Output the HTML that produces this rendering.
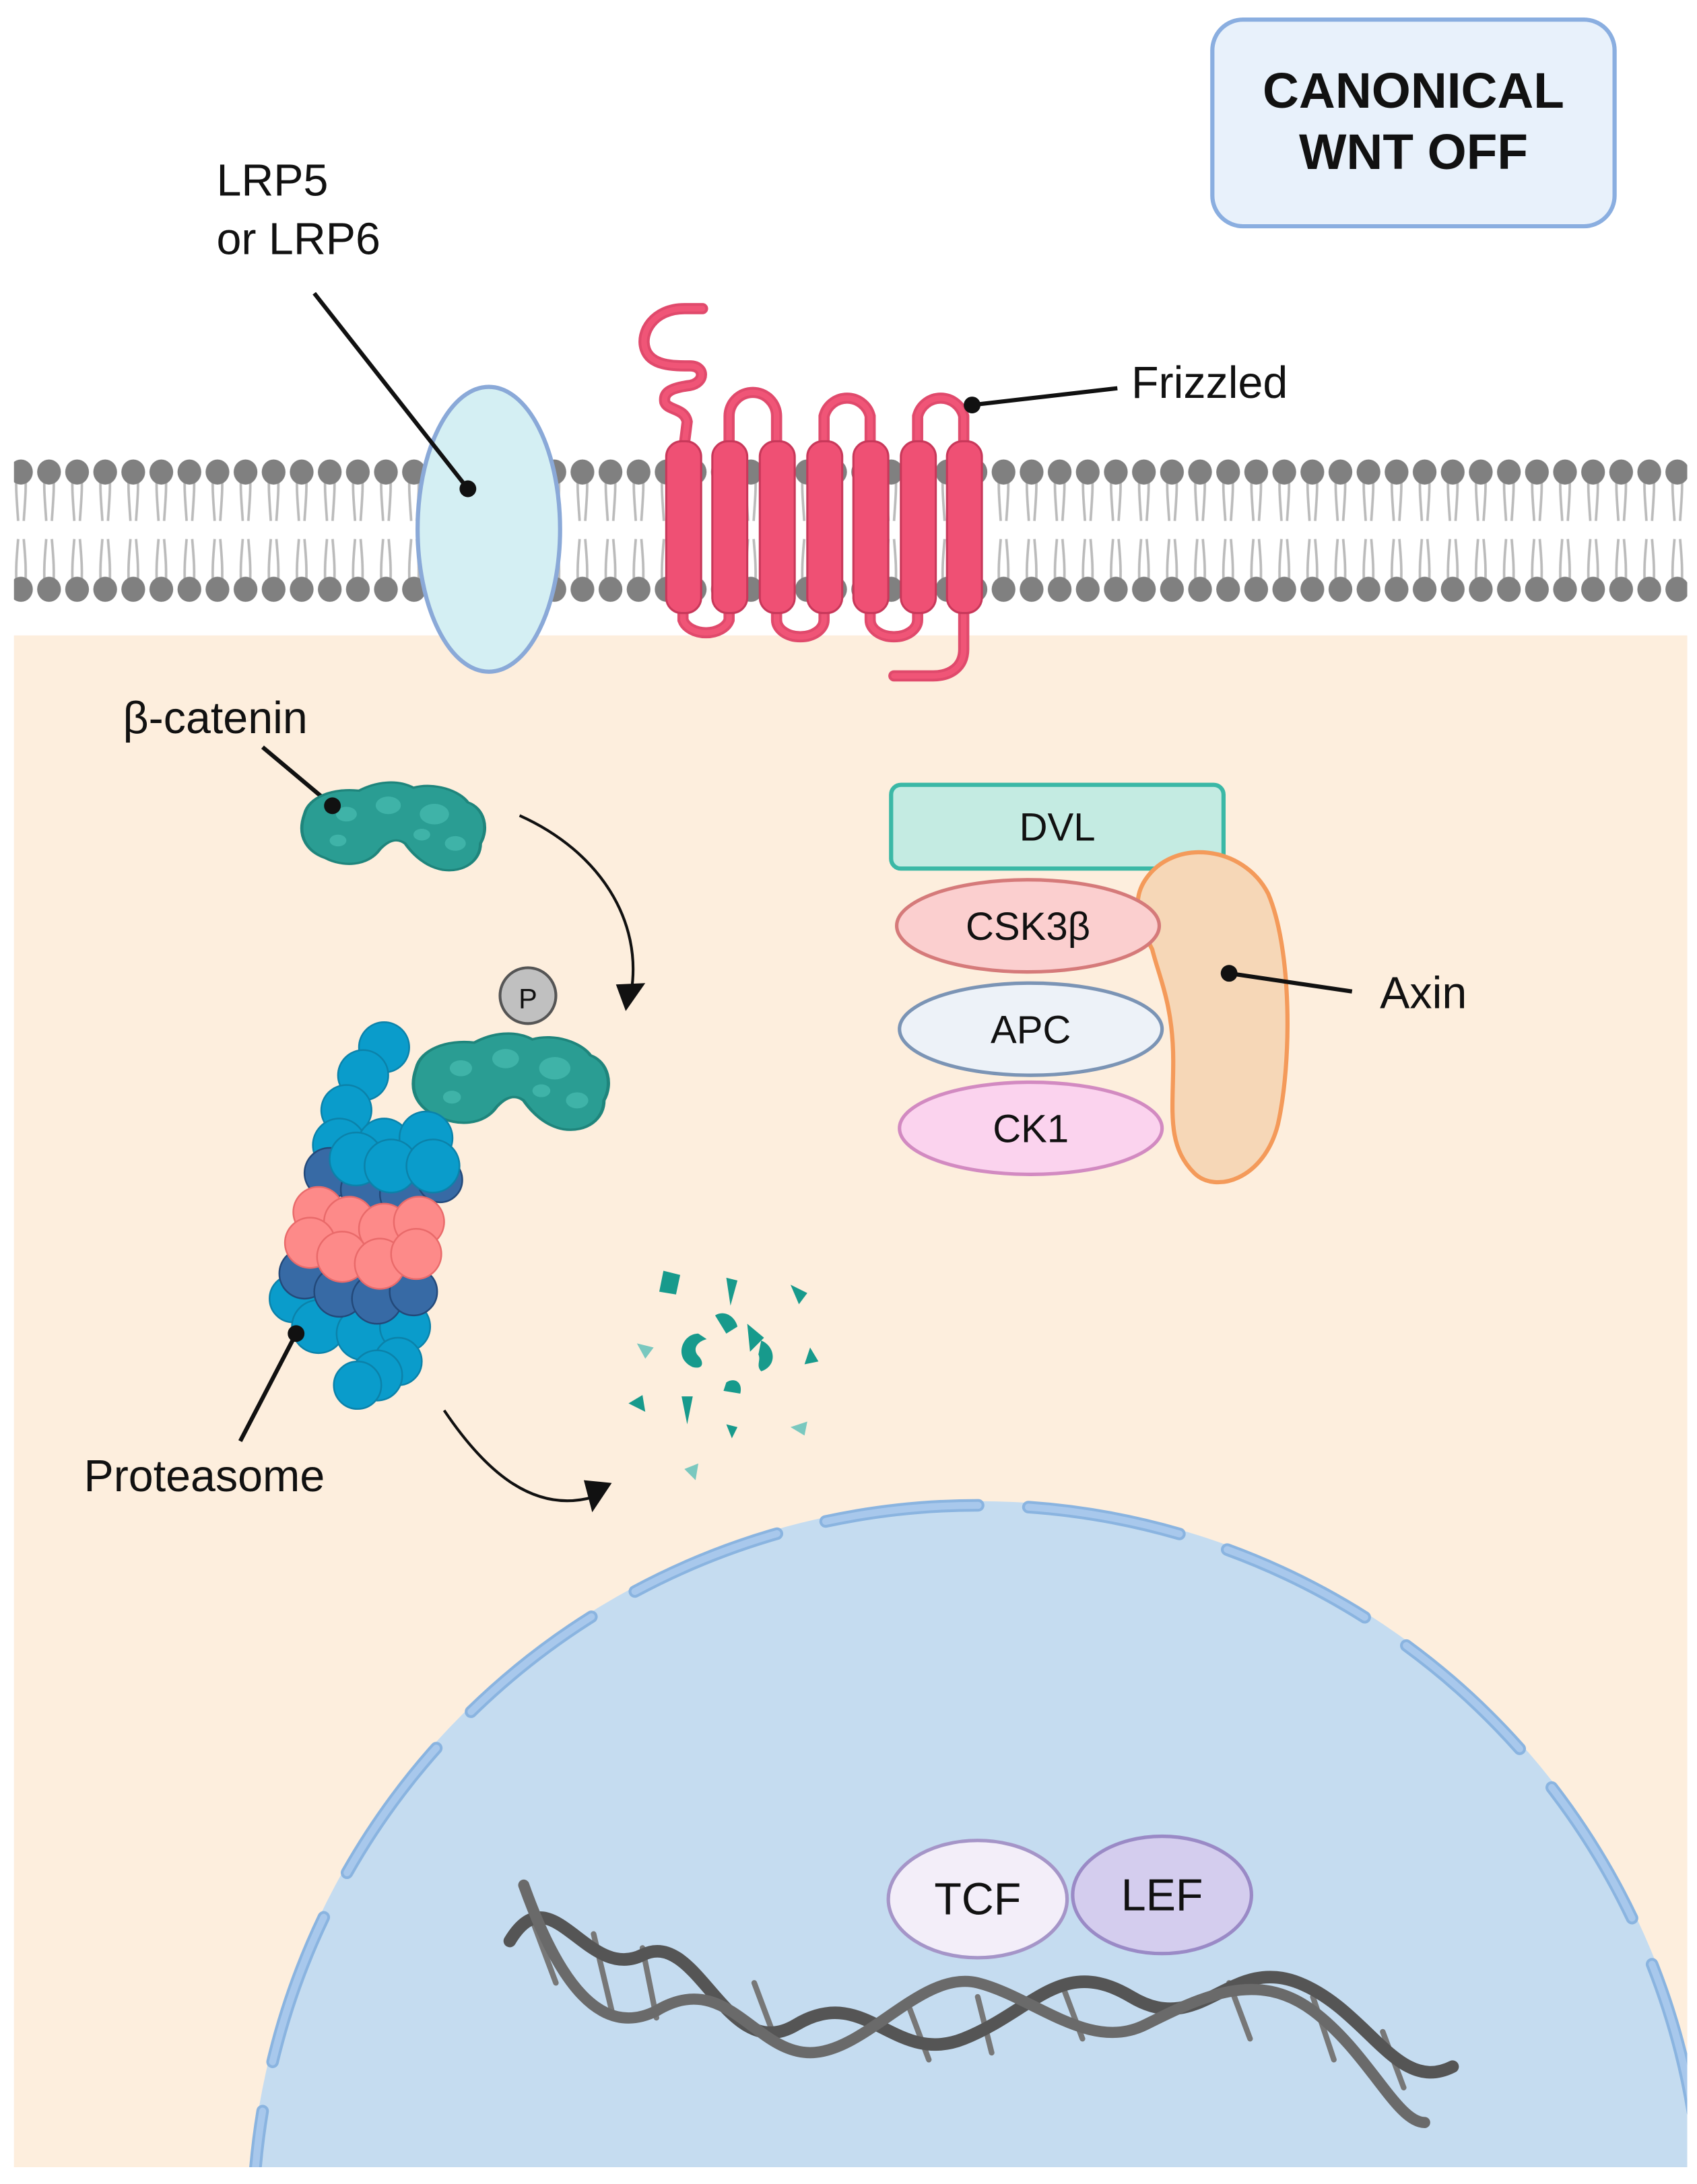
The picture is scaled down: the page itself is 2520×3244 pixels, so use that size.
<!DOCTYPE html>
<html><head><meta charset="utf-8"><style>
html,body{margin:0;padding:0;background:#fff;width:2520px;height:3244px;overflow:hidden}
svg{display:block}
text{font-family:"Liberation Sans",sans-serif;fill:#111}
</style></head><body>
<svg width="2520" height="3244" viewBox="0 0 1215 1564" xmlns="http://www.w3.org/2000/svg">
<defs>
<clipPath id="cyt"><rect x="10" y="455" width="1198" height="1097"/></clipPath>
<g id="bcat">
<path d="M0,20 C2,8 14,2 26,4 C34,-2 44,-4 52,2 C62,-2 74,4 78,12 C86,16 88,30 84,40 C84,52 76,60 66,58 C58,56 52,48 48,40 C44,36 40,38 36,44 C30,56 18,56 10,50 C2,46 -4,36 0,20 Z" fill="#2a9d93" stroke="#1f857c" stroke-width="1.5"/>
<circle cx="20" cy="20" r="5" fill="#3fb3a8"/><circle cx="40" cy="14" r="6" fill="#3fb3a8"/><circle cx="62" cy="20" r="7" fill="#3fb3a8"/><circle cx="72" cy="40" r="5" fill="#3fb3a8"/><circle cx="16" cy="38" r="4" fill="#3fb3a8"/><circle cx="56" cy="34" r="4" fill="#3fb3a8"/>
</g>
<pattern id="lip" x="5" y="328" width="20.1" height="104" patternUnits="userSpaceOnUse">
<path d="M7,10 C6,20 7,30 8,45 M13,10 C14,20 13,30 12,45 M8,58 C7,70 6,80 7,94 M12,58 C13,70 14,80 13,94" stroke="#bbbbbb" stroke-width="1.8" fill="none"/>
<ellipse cx="10" cy="10" rx="8.5" ry="9" fill="#808080"/>
<ellipse cx="10" cy="94" rx="8.5" ry="9" fill="#808080"/>
</pattern>
</defs>
<rect width="1215" height="1564" fill="#fff"/>
<rect x="10" y="455" width="1198" height="1097" fill="#fdeedd"/>
<g clip-path="url(#cyt)">
<circle cx="700" cy="1597" r="522" fill="#c5dcf0"/>
<circle cx="700" cy="1597" r="519" fill="none" stroke="#8ab4e0" stroke-width="9" stroke-linecap="round" stroke-dasharray="110 36"/>
<circle cx="700" cy="1597" r="519" fill="none" stroke="#a8c8ec" stroke-width="5" stroke-linecap="round" stroke-dasharray="110 36"/>
</g>
<rect x="10" y="328" width="1198" height="104" fill="url(#lip)"/>
<ellipse cx="350" cy="379" rx="51" ry="102" fill="#d4eff3" stroke="#8aa9d8" stroke-width="3"/>
<line x1="225" y1="210" x2="335" y2="350" stroke="#111" stroke-width="3"/>
<circle cx="335" cy="350" r="6" fill="#111"/>
<text x="155" y="140" font-size="32">LRP5</text>
<text x="155" y="182" font-size="32">or LRP6</text>
<g fill="none" stroke="#e04a6c" stroke-width="8" stroke-linecap="round">
<path d="M503,221 H490 C468,221 458,238 462,250 C466,262 482,262 494,262 C505,262 505,274 494,276 C478,278 475,282 476,288 C478,294 490,292 492,302 L490,318"/>
<path d="M522,318 V298 A17,17 0 0 1 556,298 V318"/>
<path d="M590,318 V298 A17,17 0 0 1 623,298 V318"/>
<path d="M657,318 V298 A17,17 0 0 1 690,298 V318"/>
<path d="M489,438 V444 A17,12 0 0 0 522,444 V438"/>
<path d="M556,438 V444 A17,12 0 0 0 590,444 V438"/>
<path d="M623,438 V444 A17,12 0 0 0 657,444 V438"/>
<path d="M690,438 V465 C690,478 680,484 668,484 H640"/>
</g>
<g fill="none" stroke="#f05577" stroke-width="4" stroke-linecap="round">
<path d="M503,221 H490 C468,221 458,238 462,250 C466,262 482,262 494,262 C505,262 505,274 494,276 C478,278 475,282 476,288 C478,294 490,292 492,302 L490,318"/>
<path d="M522,318 V298 A17,17 0 0 1 556,298 V318"/>
<path d="M590,318 V298 A17,17 0 0 1 623,298 V318"/>
<path d="M657,318 V298 A17,17 0 0 1 690,298 V318"/>
<path d="M489,438 V444 A17,12 0 0 0 522,444 V438"/>
<path d="M556,438 V444 A17,12 0 0 0 590,444 V438"/>
<path d="M623,438 V444 A17,12 0 0 0 657,444 V438"/>
<path d="M690,438 V465 C690,478 680,484 668,484 H640"/>
</g>
<g fill="#ef5074" stroke="#c8385a" stroke-width="1.5">
<rect x="477" y="316" width="25" height="123" rx="11"/>
<rect x="510" y="316" width="25" height="123" rx="11"/>
<rect x="544" y="316" width="25" height="123" rx="11"/>
<rect x="578" y="316" width="25" height="123" rx="11"/>
<rect x="611" y="316" width="25" height="123" rx="11"/>
<rect x="645" y="316" width="25" height="123" rx="11"/>
<rect x="678" y="316" width="25" height="123" rx="11"/>
</g>
<line x1="696" y1="290" x2="800" y2="278" stroke="#111" stroke-width="3"/>
<circle cx="696" cy="290" r="6" fill="#111"/>
<text x="810" y="285" font-size="32">Frizzled</text>
<rect x="868" y="14" width="288" height="148" rx="22" fill="#e8f1fb" stroke="#8aaee0" stroke-width="3"/>
<text x="1012" y="77" font-size="36" font-weight="bold" text-anchor="middle">CANONICAL</text>
<text x="1012" y="121" font-size="36" font-weight="bold" text-anchor="middle">WNT OFF</text>
<text x="88" y="525" font-size="32">β-catenin</text>
<line x1="188" y1="535" x2="238" y2="577" stroke="#111" stroke-width="3"/>
<use href="#bcat" transform="translate(218,562) scale(1.5,1.05)"/>
<circle cx="238" cy="577" r="6" fill="#111"/>
<path d="M372,584 C430,610 460,660 452,710" fill="none" stroke="#111" stroke-width="2"/>
<polygon points="441,705 462,704 448,724" fill="#111"/>
<use href="#bcat" transform="translate(298,742) scale(1.6,1.15)"/>
<circle cx="378" cy="713" r="20" fill="#c0c0c0" stroke="#555" stroke-width="2"/>
<text x="378" y="722" font-size="20" text-anchor="middle">P</text>
<g stroke-width="1.2">
<g fill="#0a9ccb" stroke="#0b82aa">
<circle cx="275" cy="750" r="18"/><circle cx="260" cy="770" r="18"/><circle cx="248" cy="795" r="18"/>
<circle cx="243" cy="820" r="19"/><circle cx="275" cy="820" r="19"/><circle cx="305" cy="815" r="19"/>
<circle cx="210" cy="930" r="17"/><circle cx="228" cy="950" r="19"/><circle cx="260" cy="955" r="19"/><circle cx="290" cy="950" r="18"/>
<circle cx="285" cy="975" r="17"/><circle cx="270" cy="985" r="18"/><circle cx="256" cy="992" r="17"/>
</g>
<g fill="#376aa5" stroke="#23497a">
<circle cx="236" cy="840" r="18"/><circle cx="262" cy="852" r="18"/><circle cx="290" cy="855" r="18"/><circle cx="315" cy="845" r="16"/>
<circle cx="218" cy="912" r="18"/><circle cx="243" cy="925" r="18"/><circle cx="270" cy="930" r="18"/><circle cx="296" cy="925" r="17"/>
</g>
<g fill="#fd8a89" stroke="#e96a6a">
<circle cx="228" cy="868" r="18"/><circle cx="250" cy="875" r="18"/><circle cx="275" cy="880" r="18"/><circle cx="300" cy="875" r="18"/>
<circle cx="222" cy="890" r="18"/><circle cx="245" cy="900" r="18"/><circle cx="272" cy="905" r="18"/><circle cx="298" cy="898" r="18"/>
</g>
<g fill="#0a9ccb" stroke="#0b82aa">
<circle cx="255" cy="830" r="19"/><circle cx="280" cy="835" r="19"/><circle cx="310" cy="835" r="19"/>
</g>
</g>
<line x1="212" y1="955" x2="172" y2="1032" stroke="#111" stroke-width="3"/>
<circle cx="212" cy="955" r="6" fill="#111"/>
<text x="60" y="1068" font-size="32">Proteasome</text>
<path d="M318,1010 C345,1050 380,1085 425,1072" fill="none" stroke="#111" stroke-width="2"/>
<polygon points="418,1060 438,1062 424,1083" fill="#111"/>
<g fill="#179a8c">
<path d="M475,910 l12,3 l-3,14 l-12,-2 z"/><path d="M520,915 l8,2 l-5,18 z"/><path d="M566,920 l12,6 l-6,8 z"/>
<path d="M512,942 c6,-4 14,0 16,8 l-8,5 z"/><path d="M535,948 l12,10 l-10,10 z"/>
<path d="M500,955 c-12,0 -18,18 -4,24 c8,2 8,-4 4,-8 c-4,-4 -2,-10 6,-12 z"/>
<path d="M545,960 c10,4 12,18 0,22 c-4,-4 0,-8 -2,-12 z"/>
<path d="M580,965 l6,10 l-10,2 z"/><path d="M450,1005 l10,-6 l2,12 z"/><path d="M488,1000 l8,0 l-4,20 z"/>
<path d="M520,1020 l8,2 l-4,8 z"/><path d="M520,990 c6,-4 12,0 10,8 l-12,-2 z"/>
</g>
<g fill="#7ac8bf"><path d="M456,962 l12,3 l-6,8 z"/><path d="M566,1022 l12,-4 l-2,10 z"/><path d="M490,1052 l10,-4 l-2,12 z"/></g>
<rect x="638" y="562" width="238" height="60" rx="7" fill="#c4ebe2" stroke="#3bb8a6" stroke-width="3"/>
<text x="757" y="602" font-size="28" text-anchor="middle">DVL</text>
<path d="M820,630 C840,600 890,605 908,640 C925,680 925,760 915,805 C905,845 870,855 855,840 C835,820 840,795 840,760 C840,720 830,700 825,680 C815,660 810,645 820,630 Z" fill="#f6d7b7" stroke="#f49a5a" stroke-width="3"/>
<line x1="880" y1="697" x2="968" y2="710" stroke="#111" stroke-width="3"/>
<circle cx="880" cy="697" r="6" fill="#111"/>
<text x="988" y="722" font-size="32">Axin</text>
<ellipse cx="736" cy="663" rx="94" ry="33" fill="#fbcfcf" stroke="#d57a7a" stroke-width="2.5"/>
<text x="736" y="673" font-size="28" text-anchor="middle">CSK3β</text>
<ellipse cx="738" cy="737" rx="94" ry="33" fill="#edf2f8" stroke="#7b94b5" stroke-width="2.5"/>
<text x="738" y="747" font-size="28" text-anchor="middle">APC</text>
<ellipse cx="738" cy="808" rx="94" ry="33" fill="#fbd3ee" stroke="#d28ac1" stroke-width="2.5"/>
<text x="738" y="818" font-size="28" text-anchor="middle">CK1</text>
<g fill="none" stroke-linecap="round">
<g stroke="#777" stroke-width="4">
<path d="M380,1372 L398,1420 M425,1385 L438,1440 M540,1420 L555,1460 M650,1435 L665,1475 M760,1420 L775,1460 M880,1420 L895,1460 M990,1455 L1005,1495 M460,1395 L470,1445 M700,1430 L710,1470 M940,1430 L955,1475"/>
</g>
<path d="M365,1390 C395,1340 420,1420 460,1400 C500,1380 520,1480 570,1450 C620,1420 640,1480 690,1460 C740,1440 760,1400 810,1430 C860,1460 880,1400 930,1420 C980,1440 1000,1500 1040,1480" stroke="#555" stroke-width="9"/>
<path d="M375,1350 C400,1420 430,1460 470,1440 C520,1410 540,1470 580,1470 C620,1470 660,1410 700,1420 C740,1430 780,1470 820,1450 C860,1430 900,1410 940,1440 C980,1470 1000,1520 1020,1520" stroke="#6a6a6a" stroke-width="8"/>
</g>
<ellipse cx="700" cy="1360" rx="64" ry="42" fill="#f3eef9" stroke="#a595c8" stroke-width="2.5"/>
<text x="700" y="1371" font-size="32" text-anchor="middle">TCF</text>
<ellipse cx="832" cy="1357" rx="64" ry="42" fill="#d4cdee" stroke="#9a8ac6" stroke-width="2.5"/>
<text x="832" y="1368" font-size="32" text-anchor="middle">LEF</text>
</svg>
</body></html>
